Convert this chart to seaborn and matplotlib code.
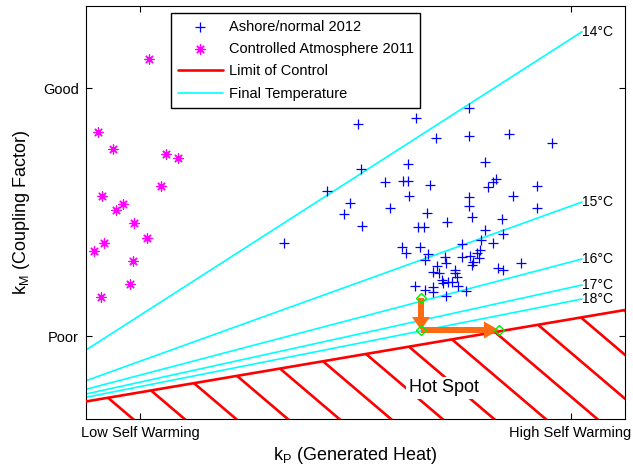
import numpy as np
import pandas as pd
import matplotlib
matplotlib.use("Agg")
import matplotlib.pyplot as plt
import seaborn as sns

# ---------------- data (arbitrary units) ----------------
ashore_kp = [272, 330, 383, 350, 383, 423, 466, 399, 322, 275, 241, 299, 317, 322, 344,
             402, 407, 410, 451, 323, 264, 258, 304, 383, 383, 427, 451, 341, 386, 276,
             361, 332, 338, 416, 399, 417, 198, 376, 395, 407, 316, 320, 334, 342, 339,
             359, 360, 351, 347, 353, 369, 369, 371, 376, 384, 387, 386, 391, 394, 393,
             412, 417, 435, 329, 339, 347, 347, 356, 357, 362, 372, 380, 360, 366]
ashore_km = [295, 301, 311, 281, 283, 285, 276, 257, 255, 250, 228, 237, 238, 238, 234,
             232, 237, 240, 233, 223, 216, 205, 211, 222, 213, 223, 211, 206, 202, 193,
             197, 192, 192, 200, 189, 185, 176, 175, 179, 176, 172, 166, 172, 165, 159,
             162, 156, 153, 147, 146, 149, 146, 142, 162, 163, 157, 154, 166, 169, 161,
             151, 149, 156, 133, 129, 132, 127, 139, 136, 137, 133, 128, 123, 137]

ca_kp = [63, 12, 27, 80, 92, 75, 16, 37, 30, 48, 61, 18, 8, 47, 44, 15]
ca_km = [360, 287, 270, 265, 261, 233, 223, 215, 209, 196, 181, 176, 168, 158, 135, 122]

temps = [14, 15, 16, 17, 18]
temp_kp = [0, 496]
temp_km_start = [69, 38.3, 29.7, 25, 21.7]
temp_km_end = [387.3, 217, 160, 134, 120]

limit_kp = [0, 539]
limit_km = [17.5, 109]

path_kp = [335, 335, 413]
path_km = [121, 89, 89]

x_ticks = [54, 484.5]
x_ticklabels = ["Low Self Warming", "High Self Warming"]
y_ticks = [83, 331]
y_ticklabels = ["Poor", "Good"]

# ---------------- style ----------------
sns.set_theme(style="ticks")
plt.rcParams["font.family"] = ["Liberation Sans", "DejaVu Sans"]
plt.rcParams["mathtext.fontset"] = "custom"
plt.rcParams["mathtext.rm"] = "Liberation Sans"
for k in ["text.color", "axes.labelcolor", "xtick.color", "ytick.color", "axes.edgecolor"]:
    plt.rcParams[k] = "black"

fig = plt.figure(figsize=(6.33, 4.70), dpi=100)
ax = fig.add_axes([86 / 633, 1 - 419 / 470, 539 / 633, 413 / 470])

ashore = pd.DataFrame({"kP": ashore_kp, "kM": ashore_km})
ca = pd.DataFrame({"kP": ca_kp, "kM": ca_km})

# temperature lines
for t, k0, k1 in zip(temps, temp_km_start, temp_km_end):
    df = pd.DataFrame({"kP": temp_kp, "kM": [k0, k1]})
    sns.lineplot(data=df, x="kP", y="kM", color="#00ffff", lw=1.2, ax=ax,
                 label="Final Temperature" if t == temps[0] else None, zorder=2)
    ax.text(temp_kp[1], k1, f"{t}°C", fontsize=10, ha="left", va="center", zorder=5)

# limit of control
df_lim = pd.DataFrame({"kP": limit_kp, "kM": limit_km})
sns.lineplot(data=df_lim, x="kP", y="kM", color="red", lw=1.9, ax=ax,
             label="Limit of Control", zorder=3)

# hatch below limit
for x0 in np.arange(22, 560, 43):
    y0 = np.interp(x0, limit_kp, limit_km)
    ax.plot([x0, x0 + 300], [y0, y0 - 0.85 * 300], color="red", lw=1.9, zorder=3,
            solid_capstyle="butt")

# scatter
sns.scatterplot(data=ashore, x="kP", y="kM", marker="+", color="blue", s=60,
                linewidth=0.9, ax=ax, label="Ashore/normal 2012", zorder=4)
sns.scatterplot(data=ca, x="kP", y="kM", marker=(8, 2, 0), color="magenta", s=45,
                linewidth=0.9, ax=ax, label="Controlled Atmosphere 2011", zorder=4)

# arrows
orange = "#ff6a13"
ax.arrow(path_kp[0], path_km[0], path_kp[1] - path_kp[0], path_km[1] - path_km[0],
         width=6, head_width=18, head_length=13, length_includes_head=True,
         color=orange, lw=0, zorder=6)
ax.arrow(path_kp[1], path_km[1], path_kp[2] - path_kp[1], path_km[2] - path_km[1],
         width=6, head_width=17, head_length=15, length_includes_head=True,
         color=orange, lw=0, zorder=6)
ax.plot(path_kp, path_km, ls="none", marker="D", ms=5, mfc="none", mec="#00ee00",
        mew=1, zorder=7)

ax.text(358, 31, "Hot Spot", fontsize=13, ha="center", va="center", zorder=8,
        bbox=dict(facecolor="white", edgecolor="none", pad=2))

# axes
ax.set_xlim(0, 539)
ax.set_ylim(0, 413)
ax.set_xticks(x_ticks)
ax.set_xticklabels(x_ticklabels, fontsize=10.5)
ax.set_yticks(y_ticks)
ax.set_yticklabels(y_ticklabels, fontsize=10.5)
ax.tick_params(direction="in", top=True, right=True, length=4, width=0.8, pad=5)
for s in ax.spines.values():
    s.set_visible(True)
    s.set_linewidth(0.8)
    s.set_color("black")

ax.set_xlabel(r"$\mathregular{k_P}$ (Generated Heat)", fontsize=13)
ax.set_ylabel(r"$\mathregular{k_M}$ (Coupling Factor)", fontsize=13)
ax.xaxis.set_label_coords(0.5, -0.062)
ax.yaxis.set_label_coords(-0.10, 0.5)

handles, labels = ax.get_legend_handles_labels()
order = ["Ashore/normal 2012", "Controlled Atmosphere 2011", "Limit of Control", "Final Temperature"]
hd = dict(zip(labels, handles))
leg = ax.legend([hd[o] for o in order], order, loc="upper left",
                bbox_to_anchor=((171 - 86) / 539, (419 - 13) / 413), borderaxespad=0,
                frameon=True, fancybox=False, fontsize=10.5, handlelength=3.1,
                handletextpad=0.4, borderpad=0.45, labelspacing=0.58, scatterpoints=1,
                framealpha=1)
leg.get_frame().set_edgecolor("black")
leg.get_frame().set_linewidth(1)
leg.set_zorder(10)

fig.savefig("out.png", dpi=100, facecolor="white")
